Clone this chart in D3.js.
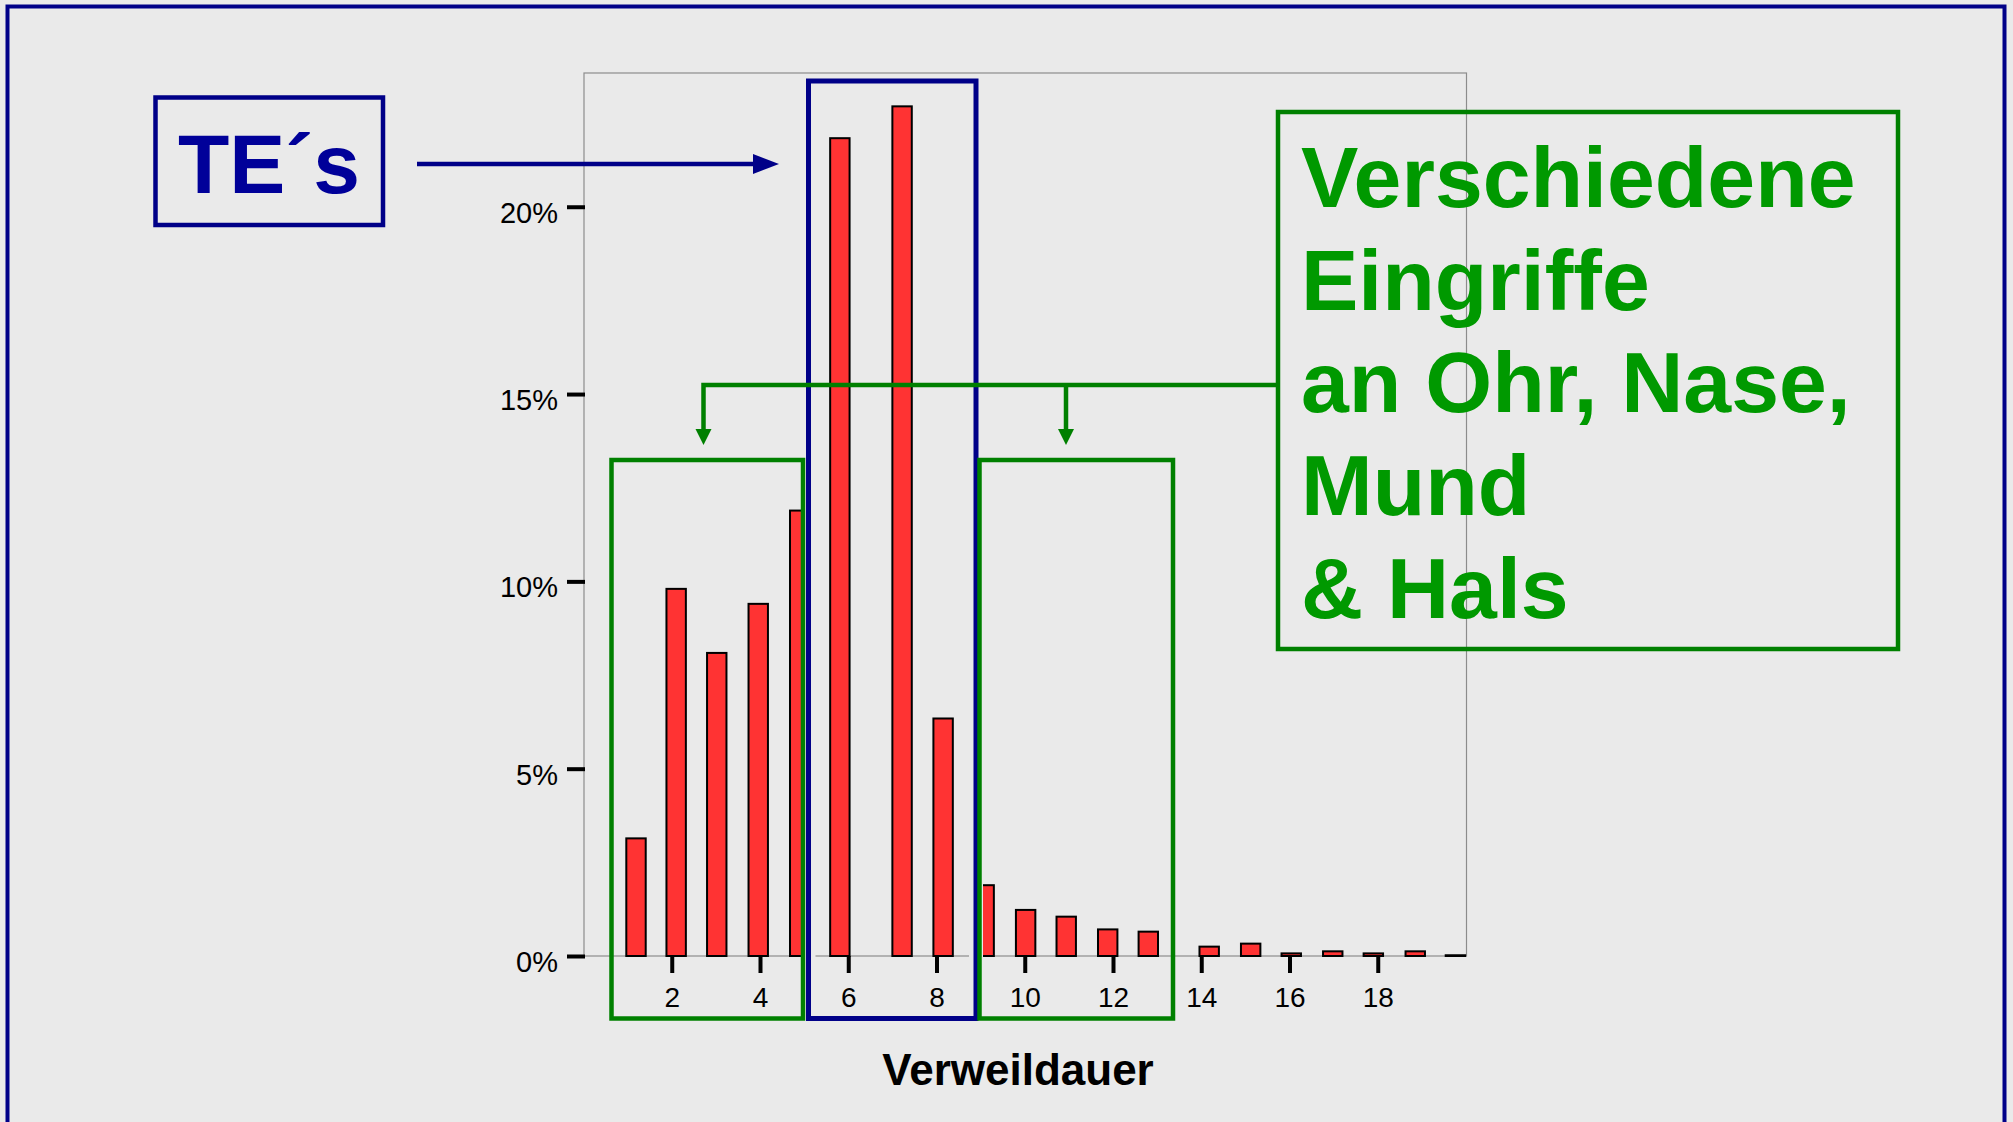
<!DOCTYPE html>
<html>
<head>
<meta charset="utf-8">
<script src="https://cdn.jsdelivr.net/npm/d3@7"></script>
<style>
  body { margin: 0; background: #eaeaea; }
  svg { display: block; font-family: "Liberation Sans", Arial, sans-serif; }
</style>
</head>
<body>
<div id="chart"></div>
<script>
// Verweildauer histogram (share of cases per bin)
var binCenters = [1.19, 2.10, 3.02, 3.96, 4.90, 5.81, 7.22, 8.15, 9.08, 10.02,
                  10.94, 11.88, 12.80, 14.18, 15.12, 16.04, 16.98, 17.90, 18.85, 19.76];
var percents = [3.14, 9.80, 8.09, 9.40, 11.89, 21.83, 22.68, 6.34, 1.89, 1.23,
                1.05, 0.71, 0.65, 0.25, 0.33, 0.07, 0.125, 0.07, 0.125, 0.02];
var yTicks = [0, 5, 10, 15, 20];
var xTicks = [2, 4, 6, 8, 10, 12, 14, 16, 18];
var xTitle = "Verweildauer";
var teLabel = "TE\u00B4s";
var noteLines = ["Verschiedene", "Eingriffe", "an Ohr, Nase,", "Mund", "& Hals"];

var W = 2013, H = 1122;
var bg = "#eaeaea", navy = "#000088", green = "#008000", textGreen = "#009900";

var svg = d3.select("#chart").append("svg")
  .attr("width", W)
  .attr("height", H);

svg.append("rect").attr("width", W).attr("height", H).attr("fill", bg);

// slide frame
svg.append("rect")
  .attr("x", 7.5).attr("y", 6.5)
  .attr("width", 1997).attr("height", 1140)
  .attr("fill", "none").attr("stroke", navy).attr("stroke-width", 4);

// plot area
var plot = {left: 583.5, right: 1466, top: 73, bottom: 956};

var xScale = d3.scaleLinear().domain([0, 20]).range([plot.left, plot.right]);
var yScale = d3.scaleLinear().domain([0, 23.57]).range([plot.bottom, plot.top]);

svg.append("rect")
  .attr("x", plot.left + 0.5).attr("y", plot.top)
  .attr("width", plot.right - plot.left).attr("height", plot.bottom - plot.top)
  .attr("fill", "none").attr("stroke", "#8c8c8c").attr("stroke-width", 1.2);

var barW = xScale(0.44) - xScale(0);

svg.append("g")
  .selectAll("rect")
  .data(binCenters.map(function(c, i) { return {x: c, v: percents[i]}; }))
  .join("rect")
  .attr("x", function(d) { return xScale(d.x) - barW / 2; })
  .attr("y", function(d) { return yScale(d.v); })
  .attr("width", barW)
  .attr("height", function(d) { return yScale(0) - yScale(d.v); })
  .attr("fill", "#ff3333")
  .attr("stroke", "#000")
  .attr("stroke-width", 2);

// y axis
var yAxis = svg.append("g")
  .attr("transform", "translate(" + (plot.left + 1.5) + ",0)")
  .call(d3.axisLeft(yScale).tickValues(yTicks).tickSize(18).tickPadding(9)
    .tickFormat(function(d) { return d + "%"; }));
yAxis.select(".domain").remove();
yAxis.selectAll(".tick line").attr("stroke", "#000").attr("stroke-width", 4);
yAxis.selectAll(".tick text")
  .attr("dy", "0.53em")
  .attr("font-family", "Liberation Sans, Arial, sans-serif")
  .attr("font-size", 29).attr("fill", "#000");

// x axis
var xAxis = svg.append("g")
  .attr("transform", "translate(0," + plot.bottom + ")")
  .call(d3.axisBottom(xScale).tickValues(xTicks).tickSize(17).tickPadding(14));
xAxis.select(".domain").remove();
xAxis.selectAll(".tick line").attr("stroke", "#000").attr("stroke-width", 4);
xAxis.selectAll(".tick text")
  .attr("font-family", "Liberation Sans, Arial, sans-serif")
  .attr("font-size", 28).attr("fill", "#000");

svg.append("text")
  .attr("x", 1018).attr("y", 1085)
  .attr("text-anchor", "middle")
  .attr("font-size", 44).attr("font-weight", "bold")
  .text(xTitle);

// TE bracket (blue) with a background halo that hides what is under its edge
svg.append("rect")
  .attr("x", 808.5).attr("y", 81).attr("width", 167.5).attr("height", 937.5)
  .attr("fill", "none").attr("stroke", bg).attr("stroke-width", 14);
svg.append("rect")
  .attr("x", 808.5).attr("y", 81).attr("width", 167.5).attr("height", 937.5)
  .attr("fill", "none").attr("stroke", navy).attr("stroke-width", 5);

// green brackets
[[611.5, 803], [979.5, 1173]].forEach(function(b) {
  svg.append("rect")
    .attr("x", b[0]).attr("y", 460).attr("width", b[1] - b[0]).attr("height", 558.5)
    .attr("fill", "none").attr("stroke", green).attr("stroke-width", 4.5);
});

// TE label box + arrow
svg.append("rect")
  .attr("x", 155.5).attr("y", 97.5).attr("width", 227.5).attr("height", 127.5)
  .attr("fill", "none").attr("stroke", navy).attr("stroke-width", 4.5);
svg.append("text")
  .attr("x", 178).attr("y", 193)
  .attr("font-size", 84).attr("font-weight", "bold").attr("fill", "#000099")
  .text(teLabel);
svg.append("line")
  .attr("x1", 417).attr("x2", 758).attr("y1", 164).attr("y2", 164)
  .attr("stroke", navy).attr("stroke-width", 4.5);
svg.append("path")
  .attr("d", "M753,154L779,164L753,174Z")
  .attr("fill", navy);

// green note box with connector arrows
svg.append("rect")
  .attr("x", 1278).attr("y", 112).attr("width", 620).attr("height", 537)
  .attr("fill", "none").attr("stroke", green).attr("stroke-width", 4.5);

svg.append("path")
  .attr("d", "M1276,385H703.5V432M1066,385V432")
  .attr("fill", "none").attr("stroke", green).attr("stroke-width", 4.5);
[703.5, 1066].forEach(function(x) {
  svg.append("path")
    .attr("d", "M" + (x - 8) + ",429L" + (x + 8) + ",429L" + x + ",445Z")
    .attr("fill", green);
});

svg.append("g")
  .selectAll("text")
  .data(noteLines)
  .join("text")
  .attr("x", 1301)
  .attr("y", function(d, i) { return 207 + i * 102.7; })
  .attr("font-size", 86).attr("font-weight", "bold").attr("fill", textGreen)
  .text(function(d) { return d; });
</script>
</body>
</html>
